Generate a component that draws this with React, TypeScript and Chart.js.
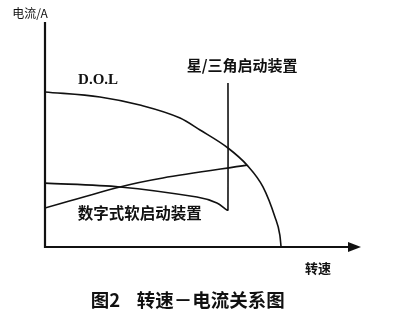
import { useEffect, useRef } from "react";
import { Chart, registerables } from "chart.js";

Chart.register(...registerables);

// Speed (x, % of axis) and current (y, % of axis) for each starting method
const dolSpeed = [0, 17.9, 30.9, 44.0, 50.5, 59.6, 65.8, 71.0, 74.9, 76.5, 76.9];
const dolCurrent = [68.9, 66.7, 63.1, 57.3, 52.0, 44.0, 36.4, 26.7, 13.3, 5.3, 0];

const starDeltaSpeed = [0, 24.4, 49.5, 56.0, 59.3, 59.6, 59.6];
const starDeltaCurrent = [28.4, 26.7, 22.2, 19.6, 16.4, 16.4, 72.9];

const softSpeed = [0, 24.4, 38.4, 65.8];
const softCurrent = [17.3, 26.7, 30.7, 36.4];

// Text annotations placed in axis units
const labelTexts = ["D.O.L", "星/三角启动装置", "数字式软启动装置", "转速", "电流/A", "图2    转速－电流关系图"];
const labelX = [17.3, 64.2, 30.9, 88.9, -4.9, 46.5];
const labelY = [74.2, 80.9, 15.1, -9.3, 103.8, -23.6];
const labelFonts = [
  "bold 15px 'Liberation Serif'",
  "bold 15px 'Noto Sans CJK SC'",
  "bold 15.5px 'Noto Sans CJK SC'",
  "bold 13px 'Noto Sans CJK SC'",
  "12px 'Noto Sans CJK SC'",
  "bold 18.5px 'Noto Sans CJK SC'",
];

const toPoints = (xs: number[], ys: number[]) => xs.map((x, i) => ({ x, y: ys[i] }));

const axesAndLabels = {
  id: "axesAndLabels",
  afterDatasetsDraw(chart: any) {
    const { ctx, scales } = chart;
    const xs = scales.x;
    const ys = scales.y;
    const x0 = xs.getPixelForValue(0);
    const x1 = xs.getPixelForValue(100);
    const y0 = ys.getPixelForValue(0);
    const y1 = ys.getPixelForValue(100);
    ctx.save();
    ctx.strokeStyle = "#111";
    ctx.fillStyle = "#111";
    ctx.lineWidth = 2.2;
    ctx.beginPath();
    ctx.moveTo(x0, y1);
    ctx.lineTo(x0, y0);
    ctx.lineTo(x1, y0);
    ctx.stroke();
    // arrow head on the speed axis
    ctx.beginPath();
    ctx.moveTo(x1 + 9, y0);
    ctx.lineTo(x1 - 4, y0 - 5);
    ctx.lineTo(x1 - 4, y0 + 5);
    ctx.closePath();
    ctx.fill();

    ctx.textAlign = "center";
    ctx.textBaseline = "middle";
    labelTexts.forEach((t, i) => {
      ctx.font = labelFonts[i];
      ctx.fillText(t, xs.getPixelForValue(labelX[i]), ys.getPixelForValue(labelY[i]));
    });
    ctx.restore();
  },
};

export default function App() {
  const canvasRef = useRef<HTMLCanvasElement | null>(null);

  useEffect(() => {
    const canvas = canvasRef.current;
    if (!canvas) return;
    const lineStyle = {
      borderColor: "#111",
      borderWidth: 1.6,
      pointRadius: 0,
      fill: false,
      showLine: true,
    };
    const chart = new Chart(canvas, {
      type: "scatter",
      data: {
        datasets: [
          { label: "D.O.L", data: toPoints(dolSpeed, dolCurrent), tension: 0.4, cubicInterpolationMode: "monotone", ...lineStyle },
          { label: "星/三角启动装置", data: toPoints(starDeltaSpeed, starDeltaCurrent), tension: 0.3, ...lineStyle },
          { label: "数字式软启动装置", data: toPoints(softSpeed, softCurrent), tension: 0.3, ...lineStyle },
        ],
      } as any,
      options: {
        animation: false,
        responsive: false,
        maintainAspectRatio: false,
        layout: { padding: { left: 45, top: 22, right: 42, bottom: 79 } },
        plugins: { legend: { display: false }, tooltip: { enabled: false } },
        scales: {
          x: { type: "linear", min: 0, max: 100, display: false },
          y: { type: "linear", min: 0, max: 100, display: false },
        },
      },
      plugins: [axesAndLabels],
    });
    return () => chart.destroy();
  }, []);

  return (
    <div style={{ position: "fixed", left: 0, top: 0, width: 394, height: 326, background: "#fff" }}>
      <canvas ref={canvasRef} width={394} height={326} />
    </div>
  );
}
